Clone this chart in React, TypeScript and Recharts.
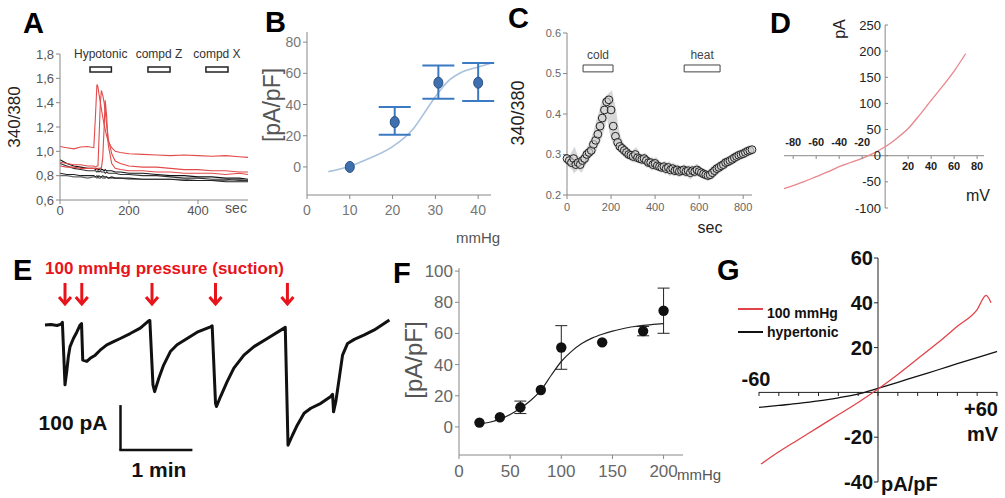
import React from 'react';
import {
  ComposedChart,
  LineChart,
  Line,
  Scatter,
  ErrorBar,
  XAxis,
  YAxis,
  ReferenceArea,
  ReferenceLine,
} from 'recharts';

const SANS = "'Liberation Sans', Arial, sans-serif";
const NARROW = "'Liberation Sans Narrow', 'Liberation Sans', Arial, sans-serif";

// A: 340/380 ratio traces
const aTime = [0, 20, 40, 60, 80, 98, 103, 107, 110, 113, 117, 120, 124, 128, 131, 135, 140, 150, 160, 175, 200, 240, 280, 320, 360, 400, 440, 480, 520, 545];
const aRed1 = [1.04, 1.03, 1.02, 1.035, 1.04, 1.03, 1.3, 1.55, 1.53, 1.47, 1.4, 1.35, 1.28, 1.22, 1.18, 1.13, 1.08, 1.03, 1.0, 0.99, 0.98, 0.975, 0.97, 0.965, 0.97, 0.965, 0.96, 0.965, 0.955, 0.95];
const aRed2 = [0.91, 0.9, 0.89, 0.89, 0.88, 0.88, 0.87, 0.88, 0.88, 1.1, 1.4, 1.5, 1.46, 1.4, 1.33, 1.22, 1.1, 0.98, 0.92, 0.9, 0.88, 0.87, 0.87, 0.86, 0.85, 0.85, 0.84, 0.84, 0.83, 0.83];
const aRed3 = [0.88, 0.87, 0.87, 0.86, 0.86, 0.86, 0.86, 0.85, 0.86, 0.86, 0.86, 0.86, 0.95, 1.2, 1.42, 1.3, 1.05, 0.9, 0.86, 0.85, 0.84, 0.84, 0.83, 0.83, 0.82, 0.82, 0.82, 0.81, 0.82, 0.81];
const aBlack1 = [0.93, 0.9, 0.88, 0.87, 0.86, 0.86, 0.85, 0.86, 0.85, 0.85, 0.86, 0.85, 0.85, 0.84, 0.85, 0.84, 0.84, 0.84, 0.83, 0.83, 0.82, 0.82, 0.81, 0.8, 0.8, 0.79, 0.79, 0.78, 0.78, 0.77];
const aBlack2 = [0.9, 0.88, 0.86, 0.85, 0.84, 0.84, 0.84, 0.83, 0.84, 0.83, 0.84, 0.83, 0.83, 0.83, 0.82, 0.83, 0.82, 0.82, 0.82, 0.81, 0.81, 0.8, 0.8, 0.79, 0.78, 0.78, 0.77, 0.77, 0.76, 0.76];
const aBlack3 = [0.82, 0.81, 0.81, 0.8, 0.8, 0.8, 0.79, 0.8, 0.79, 0.8, 0.79, 0.79, 0.8, 0.79, 0.79, 0.79, 0.78, 0.79, 0.78, 0.78, 0.78, 0.77, 0.77, 0.77, 0.76, 0.76, 0.76, 0.75, 0.75, 0.75];
const aBlack4 = [0.8, 0.8, 0.79, 0.79, 0.78, 0.79, 0.79, 0.78, 0.79, 0.78, 0.78, 0.79, 0.78, 0.78, 0.78, 0.79, 0.78, 0.78, 0.78, 0.78, 0.77, 0.77, 0.77, 0.77, 0.77, 0.76, 0.76, 0.76, 0.77, 0.76];
const aStimNames = ['Hypotonic', 'compd Z', 'compd X'];
const aStimStart = [87, 255, 423];
const aStimEnd = [149, 319, 487];
const aXTicks = [0, 200, 400];
const aYTicks = [0.6, 0.8, 1.0, 1.2, 1.4, 1.6, 1.8];

// B: current density vs pressure
const bX = [10, 20.5, 30.7, 40];
const bY = [0, 28.8, 54, 54];
const bErr = [null, [8.1, 9.6], [10.3, 11], [11.8, 12.7]];
const bFitX = [5, 10, 15, 20, 25, 28, 30, 33, 36, 40, 43];
const bFitY = [-3, 0.5, 6, 13, 25, 37, 45, 55, 60.5, 64, 66.5];
const bXTicks = [0, 10, 20, 30, 40];
const bYTicks = [0, 20, 40, 60, 80];

// C: cold / heat response
const cTime = [0, 10, 20, 30, 40, 50, 60, 70, 80, 90, 100, 110, 120, 130, 140, 150, 160, 170, 180, 190, 200, 210, 220, 230, 240, 250, 260, 270, 280, 290, 300, 310, 320, 330, 340, 350, 360, 370, 380, 390, 400, 410, 420, 430, 440, 450, 460, 470, 480, 490, 500, 510, 520, 530, 540, 550, 560, 570, 580, 590, 600, 610, 620, 630, 640, 650, 660, 670, 680, 690, 700, 710, 720, 730, 740, 750, 760, 770, 780, 790, 800, 810, 820, 830, 840];
const cRatio = [
  0.29, 0.285, 0.28, 0.29, 0.275, 0.28, 0.275, 0.285, 0.29, 0.3,
  0.305, 0.31, 0.325, 0.335, 0.35, 0.37, 0.39, 0.41, 0.43, 0.435,
  0.41, 0.37, 0.345, 0.33, 0.32, 0.315, 0.31, 0.305, 0.3, 0.298,
  0.295, 0.3, 0.292, 0.29, 0.288, 0.29, 0.285, 0.28, 0.28, 0.275,
  0.278, 0.272, 0.27, 0.268, 0.27, 0.265, 0.268, 0.262, 0.265, 0.26,
  0.262, 0.258, 0.26, 0.262, 0.258, 0.26, 0.255, 0.26, 0.258, 0.262,
  0.258, 0.255, 0.252, 0.25, 0.248, 0.25, 0.255, 0.26, 0.265, 0.268,
  0.272, 0.275, 0.28, 0.282, 0.285, 0.288, 0.292, 0.295, 0.298, 0.3,
  0.302, 0.305, 0.308, 0.31, 0.312,
];
const cStimNames = ['cold', 'heat'];
const cStimStart = [73, 532];
const cStimEnd = [209, 695];
const cXTicks = [0, 200, 400, 600, 800];
const cYTicks = [0.2, 0.3, 0.4, 0.5, 0.6];

// D: I-V curve
const dMv = [-88, -80, -70, -60, -50, -40, -30, -20, -10, 0, 10, 20, 30, 40, 50, 60, 70];
const dPa = [-63, -57, -49, -40, -31, -21, -13, -5, 5, 17, 33, 52, 78, 106, 133, 162, 195];
const dXTicks = [-80, -60, -40, -20, 20, 40, 60, 80];
const dYTicks = [-100, -50, 0, 50, 100, 150, 200, 250];

// E: raw current trace (s, pA relative to baseline)
const eTime = [0, 5, 10, 13.5, 14.5, 16.7, 18.1, 19.5, 20.9, 23.7, 26.5, 29.3, 30.5, 31.5, 34.9, 37.7, 41.9, 46, 51.6, 57.2, 62.8, 71.1, 79.5, 86.5, 87.5, 90.1, 91.5, 94.9, 99, 104.6, 110.2, 118.6, 127, 138.1, 139.5, 142.3, 143.1, 146.5, 152, 157.6, 166, 174.4, 185.5, 199.5, 200.5, 202.8, 206.5, 210.6, 216.2, 221.8, 230.2, 238.5, 240, 240.8, 242.7, 245.5, 248.3, 252.5, 258.1, 266.5, 274.8, 287.4];
const eCurrent = [0, 1, -1, 2, 6, -133, -104, -70, -48, -30, -16, 0, 3, -78, -81, -74, -67, -56, -44, -37, -30, -19, -7, 9, 10, -133, -148, -119, -89, -59, -44, -30, -16, -4, -2, -174, -181, -159, -126, -96, -67, -48, -30, -7, -5, -267, -245, -222, -196, -185, -174, -159, -154, -193, -170, -119, -67, -41, -32, -22, -11, 11];
const eArrowTimes = [16.7, 30.7, 89.3, 142.3, 202.3];

// F: current density vs suction
const fX = [20, 40, 60, 80, 100, 140, 180, 200];
const fY = [2.8, 6.2, 12.6, 23.7, 51, 54.3, 61.5, 74.6];
const fErr = [0, 0, 4, 0, 14, 0, 3, 14.5];
const fFitX = [20, 30, 40, 50, 60, 70, 80, 90, 100, 110, 120, 130, 140, 150, 160, 170, 180, 190, 200];
const fFitY = [2, 3, 5, 8, 12, 17, 23.5, 33, 42, 48.5, 53.5, 57, 59.5, 61.5, 63, 64.3, 65.2, 65.8, 66.3];
const fXTicks = [0, 50, 100, 150, 200];
const fYTicks = [0, 20, 40, 60, 80, 100];

// G: I-V, 100 mmHg vs hypertonic
const gRedMv = [-59, -50, -40, -30, -20, -10, 0, 10, 20, 30, 40, 50, 54.5, 57];
const gRedPd = [-32, -26.5, -21, -15.5, -10, -4.5, 1.5, 8, 15, 22, 29.5, 37, 43.3, 40];
const gBlackMv = [-60, -50, -40, -30, -20, -10, 0, 10, 20, 30, 40, 50, 60];
const gBlackPd = [-6.7, -5.8, -4.9, -3.8, -2.4, -0.8, 1.8, 4.5, 7.3, 10, 12.8, 15.5, 18.3];
const gXTicks = [-60, -50, -40, -30, -20, -10, 0, 10, 20, 30, 40, 50, 60];
const gYTicks = [-40, -20, 0, 20, 40, 60];

const pos = (left: number, top: number): React.CSSProperties => ({ position: 'absolute', left, top });

function PanelA() {
  const data = aTime.map((t, i) => ({
    t, r1: aRed1[i], r2: aRed2[i], r3: aRed3[i], k1: aBlack1[i], k2: aBlack2[i], k3: aBlack3[i], k4: aBlack4[i],
  }));
  const tick = { fontSize: 13, fill: '#555', fontFamily: SANS };
  return (
    <div style={pos(0, 0)}>
      <LineChart width={260} height={230} data={data} margin={{ top: 54, right: 12, left: 15, bottom: 0 }}>
        <XAxis dataKey="t" type="number" domain={[0, 545]} ticks={aXTicks} height={30} stroke="#888" tickSize={4} tick={tick} />
        <YAxis type="number" domain={[0.6, 1.8]} ticks={aYTicks} width={45} stroke="#888" tickSize={4} tick={tick}
          tickFormatter={(v: number) => v.toFixed(1).replace('.', ',')} />
        {aStimNames.map((name, i) => (
          <ReferenceArea key={name} x1={aStimStart[i]} x2={aStimEnd[i]} y1={1.652} y2={1.693} fill="#fff" fillOpacity={1}
            stroke="#222" strokeWidth={1.5}
            label={{ value: name, position: 'top', offset: 9, fontSize: 12, fill: '#333', fontFamily: SANS }} />
        ))}
        <Line dataKey="k4" stroke="#666" strokeWidth={1.1} dot={false} isAnimationActive={false} />
        <Line dataKey="k3" stroke="#222" strokeWidth={1.1} dot={false} isAnimationActive={false} />
        <Line dataKey="k2" stroke="#333" strokeWidth={1.1} dot={false} isAnimationActive={false} />
        <Line dataKey="k1" stroke="#111" strokeWidth={1.1} dot={false} isAnimationActive={false} />
        <Line dataKey="r3" stroke="#e34a4a" strokeWidth={1.1} dot={false} isAnimationActive={false} />
        <Line dataKey="r2" stroke="#e34a4a" strokeWidth={1.1} dot={false} isAnimationActive={false} />
        <Line dataKey="r1" stroke="#e34a4a" strokeWidth={1.1} dot={false} isAnimationActive={false} />
      </LineChart>
    </div>
  );
}

function PanelB() {
  const fit = bFitX.map((x, i) => ({ x, y: bFitY[i] }));
  const pts = bX.map((x, i) => ({ x, y: bY[i], err: bErr[i] }));
  const tick = { fontSize: 14, fill: '#777', fontFamily: NARROW };
  return (
    <div style={pos(250, 0)}>
      <ComposedChart width={250} height={230} margin={{ top: 32, right: 9, left: 17, bottom: 5 }}>
        <XAxis dataKey="x" type="number" domain={[0, 43]} ticks={bXTicks} height={30} stroke="#888" tickSize={4} tick={tick} tickMargin={6} />
        <YAxis type="number" domain={[-18, 86.5]} ticks={bYTicks} width={40} stroke="#888" tickSize={4} tick={tick} />
        <Line data={fit} dataKey="y" type="monotone" stroke="#a9c1dc" strokeWidth={1.6} dot={false} isAnimationActive={false} />
        <Scatter data={pts.filter((p) => p.err)} dataKey="y" shape={() => <g />} isAnimationActive={false}>
          <ErrorBar dataKey="err" direction="y" width={16} stroke="#3b7ac0" strokeWidth={2} />
        </Scatter>
        <Scatter data={pts} dataKey="y" isAnimationActive={false}
          shape={(p: any) => <ellipse cx={p.cx} cy={p.cy} rx={4.5} ry={5.5} fill="#3e6fae" stroke="#2b4f82" strokeWidth={1} />} />
      </ComposedChart>
    </div>
  );
}

function PanelC() {
  const data = cTime.map((t, i) => ({ t, v: cRatio[i] }));
  const tick = { fontSize: 11, fill: '#666', fontFamily: SANS };
  return (
    <div style={pos(500, 0)}>
      <ComposedChart width={260} height={230} data={data} margin={{ top: 33, right: 8, left: 22, bottom: 5 }}>
        <XAxis dataKey="t" type="number" domain={[0, 840]} ticks={cXTicks} height={30} stroke="#888" tickSize={4} tick={tick} tickMargin={4} />
        <YAxis type="number" domain={[0.2, 0.6]} ticks={cYTicks} width={45} stroke="#888" tickSize={4} tick={tick}
          tickFormatter={(v: number) => v.toFixed(1)} />
        {cStimNames.map((name, i) => (
          <ReferenceArea key={name} x1={cStimStart[i]} x2={cStimEnd[i]} y1={0.504} y2={0.521} fill="#fff" fillOpacity={1}
            stroke="#444" strokeWidth={1}
            label={{ value: name, position: 'top', offset: 6, fontSize: 12, fill: '#444', fontFamily: SANS }} />
        ))}
        <Line dataKey="v" stroke="#bdbdbd" strokeWidth={10} strokeOpacity={0.6} dot={false} isAnimationActive={false} />
        <Scatter dataKey="v" isAnimationActive={false}
          shape={(p: any) => <circle cx={p.cx} cy={p.cy} r={3.9} fill="#d6d6d6" fillOpacity={0.6} stroke="#222" strokeWidth={1} />} />
      </ComposedChart>
    </div>
  );
}

function PanelD() {
  const data = dMv.map((x, i) => ({ x, y: dPa[i] }));
  const axisX = 135;
  const axisY = 156;
  return (
    <div style={pos(750, 0)}>
      <LineChart width={255} height={230} data={data} margin={{ top: 25, right: 21, left: 4, bottom: 2 }}>
        <XAxis dataKey="x" type="number" domain={[-88, 86]} ticks={dXTicks} height={20} axisLine={false} tickLine={false} interval={0}
          tick={(p: any) => {
            const v = p.payload.value;
            return (
              <g>
                <line x1={p.x} x2={p.x} y1={axisY} y2={axisY + 3} stroke="#888" />
                <text x={p.x} y={v < 0 ? axisY - 10 : axisY + 14} textAnchor="middle" fontSize={11} fontWeight="bold" fill="#222" fontFamily={SANS}>{v}</text>
              </g>
            );
          }} />
        <YAxis type="number" domain={[-100, 250]} ticks={dYTicks} width={30} axisLine={false} tickLine={false} interval={0}
          tick={(p: any) => (
            <g>
              <line x1={axisX} x2={axisX + 3} y1={p.y} y2={p.y} stroke="#888" />
              <text x={axisX - 4} y={p.y + 4.5} textAnchor="end" fontSize={13} fill="#222" fontFamily={SANS}>{p.payload.value}</text>
            </g>
          )} />
        <ReferenceLine x={0} stroke="#888" />
        <ReferenceLine y={0} stroke="#888" />
        <Line dataKey="y" type="monotone" stroke="#e8868c" strokeWidth={1.3} dot={false} isAnimationActive={false} />
      </LineChart>
    </div>
  );
}

function PanelE() {
  const trace = eTime.map((t, i) => ({ t, I: eCurrent[i] }));
  const arrows = eArrowTimes.map((t) => ({ t, I: 69 }));
  return (
    <div style={pos(0, 245)}>
      <ComposedChart width={400} height={230} margin={{ top: 30.5, right: 10.6, left: 45, bottom: 19.5 }}>
        <XAxis dataKey="t" type="number" domain={[0, 287]} hide />
        <YAxis type="number" domain={[-290, 110]} hide />
        <ReferenceLine segment={[{ x: 63, y: -178 }, { x: 63, y: -278 }]} stroke="#111" strokeWidth={2.5} />
        <ReferenceLine segment={[{ x: 62, y: -278 }, { x: 123, y: -278 }]} stroke="#111" strokeWidth={2.5} />
        <Line data={trace} dataKey="I" stroke="#111" strokeWidth={3} strokeLinejoin="round" dot={false} isAnimationActive={false} />
        <Scatter data={arrows} dataKey="I" isAnimationActive={false}
          shape={(p: any) => (
            <g stroke="#e8141b" strokeWidth={3} fill="none">
              <line x1={p.cx} x2={p.cx} y1={p.cy - 11} y2={p.cy + 9} />
              <polyline points={`${p.cx - 6},${p.cy + 3} ${p.cx},${p.cy + 10} ${p.cx + 6},${p.cy + 3}`} />
            </g>
          )} />
      </ComposedChart>
    </div>
  );
}

function PanelF() {
  const fit = fFitX.map((x, i) => ({ x, y: fFitY[i] }));
  const pts = fX.map((x, i) => ({ x, y: fY[i], err: fErr[i] }));
  const tick = { fontSize: 17, fill: '#666', fontFamily: NARROW };
  return (
    <div style={pos(410, 245)}>
      <ComposedChart width={290} height={250} margin={{ top: 23, right: 17, left: 14, bottom: 10 }}>
        <XAxis dataKey="x" type="number" domain={[0, 219]} ticks={fXTicks} height={30} stroke="#888" tickSize={4} tick={tick} tickMargin={6} />
        <YAxis type="number" domain={[-18, 102]} ticks={fYTicks} width={35} stroke="#888" tickSize={4} tick={tick} />
        <Line data={fit} dataKey="y" type="monotone" stroke="#222" strokeWidth={1.2} dot={false} isAnimationActive={false} />
        <Scatter data={pts.filter((p) => p.err)} dataKey="y" shape={() => <g />} isAnimationActive={false}>
          <ErrorBar dataKey="err" direction="y" width={6} stroke="#222" strokeWidth={1} />
        </Scatter>
        <Scatter data={pts} dataKey="y" isAnimationActive={false}
          shape={(p: any) => <circle cx={p.cx} cy={p.cy} r={5.2} fill="#111" />} />
      </ComposedChart>
    </div>
  );
}

function PanelG() {
  const red = gRedMv.map((x, i) => ({ x, y: gRedPd[i] }));
  const black = gBlackMv.map((x, i) => ({ x, y: gBlackPd[i] }));
  const axisX = 178;
  const axisY = 147;
  const bold = { fontSize: 20, fontWeight: 'bold' as const, fill: '#111', fontFamily: SANS };
  return (
    <div style={pos(700, 245)}>
      <ComposedChart width={305} height={253} margin={{ top: 13, right: 8, left: 29, bottom: 0 }}>
        <XAxis dataKey="x" type="number" domain={[-60, 60]} ticks={gXTicks} height={16} axisLine={false} tickLine={false} interval={0}
          tick={(p: any) => {
            const v = p.payload.value;
            return (
              <g>
                <line x1={p.x} x2={p.x} y1={axisY} y2={axisY + 4} stroke="#222" />
                {v === -60 && <text x={p.x - 3} y={axisY - 6} textAnchor="middle" {...bold}>-60</text>}
                {v === 60 && <text x={p.x + 1} y={axisY + 24} textAnchor="end" {...bold}>+60</text>}
              </g>
            );
          }} />
        <YAxis type="number" domain={[-40, 60]} ticks={gYTicks} width={30} axisLine={false} tickLine={false} interval={0}
          tick={(p: any) => (
            <g>
              <line x1={axisX - 4} x2={axisX} y1={p.y} y2={p.y} stroke="#222" />
              {p.payload.value !== 0 && (
                <text x={axisX - 5} y={p.y + 7} textAnchor="end" {...bold}>{p.payload.value}</text>
              )}
            </g>
          )} />
        <ReferenceLine x={0} stroke="#222" />
        <ReferenceLine y={0} stroke="#222" />
        <Line data={black} dataKey="y" type="monotone" stroke="#111" strokeWidth={1.3} dot={false} isAnimationActive={false} />
        <Line data={red} dataKey="y" type="monotone" stroke="#e0444a" strokeWidth={1.3} dot={false} isAnimationActive={false} />
      </ComposedChart>
    </div>
  );
}

function Labels() {
  const letter = { fontSize: 29, fontWeight: 'bold' as const, fill: '#000', fontFamily: SANS };
  const bold = { fontWeight: 'bold' as const, fontFamily: SANS };
  return (
    <svg width={1005} height={498} style={{ position: 'absolute', left: 0, top: 0, pointerEvents: 'none' }}>
      <text x={23} y={33} {...letter}>A</text>
      <text x={265} y={32} {...letter}>B</text>
      <text x={508} y={28} {...letter}>C</text>
      <text x={770} y={33} {...letter}>D</text>
      <text x={13} y={280} {...letter}>E</text>
      <text x={393} y={283} {...letter}>F</text>
      <text x={717} y={280} {...letter}>G</text>

      <text transform="translate(20,117) rotate(-90)" textAnchor="middle" fontSize={17} fill="#222" fontFamily={SANS}>340/380</text>
      <text x={236} y={213} textAnchor="middle" fontSize={14} fill="#555" fontFamily={SANS}>sec</text>

      <text transform="translate(280,105) rotate(-90)" textAnchor="middle" fontSize={23} fill="#555" fontFamily={SANS}>[pA/pF]</text>
      <text x={478} y={243} textAnchor="middle" fontSize={15} fill="#555" fontFamily={SANS}>mmHg</text>

      <text transform="translate(524,113) rotate(-90)" textAnchor="middle" fontSize={18} fill="#222" fontFamily={SANS}>340/380</text>
      <text x={710} y={233} textAnchor="middle" fontSize={16} fill="#222" fontFamily={SANS}>sec</text>

      <text transform="translate(845,29) rotate(-90)" textAnchor="middle" fontSize={16} fill="#222" fontFamily={SANS}>pA</text>
      <text x={978} y={201} textAnchor="middle" fontSize={16} fill="#222" fontFamily={SANS}>mV</text>

      <text x={45} y={274} fontSize={17} fill="#e8141b" {...bold}>100 mmHg pressure (suction)</text>
      <text x={73} y={430} textAnchor="middle" fontSize={21} fill="#111" {...bold}>100 pA</text>
      <text x={159} y={477} textAnchor="middle" fontSize={21} fill="#111" {...bold}>1 min</text>

      <text transform="translate(422,360) rotate(-90)" textAnchor="middle" fontSize={24} fill="#555" fontFamily={SANS}>[pA/pF]</text>
      <text x={677} y={480} fontSize={15} fill="#555" fontFamily={SANS}>mmHg</text>

      <line x1={738} x2={763} y1={309} y2={309} stroke="#e0444a" strokeWidth={2} />
      <text x={767} y={318} fontSize={14} fill="#111" {...bold}>100 mmHg</text>
      <line x1={738} x2={763} y1={332} y2={332} stroke="#111" strokeWidth={2} />
      <text x={767} y={337} fontSize={14} fill="#111" {...bold}>hypertonic</text>
      <text x={998} y={441} textAnchor="end" fontSize={20} fill="#111" {...bold}>mV</text>
      <text x={881} y={491} fontSize={20} fill="#111" {...bold}>pA/pF</text>
    </svg>
  );
}

export default function App() {
  return (
    <div style={{ position: 'absolute', left: 0, top: 0, width: 1005, height: 498, background: '#fff', overflow: 'hidden' }}>
      <PanelA />
      <PanelB />
      <PanelC />
      <PanelD />
      <PanelE />
      <PanelF />
      <PanelG />
      <Labels />
    </div>
  );
}
